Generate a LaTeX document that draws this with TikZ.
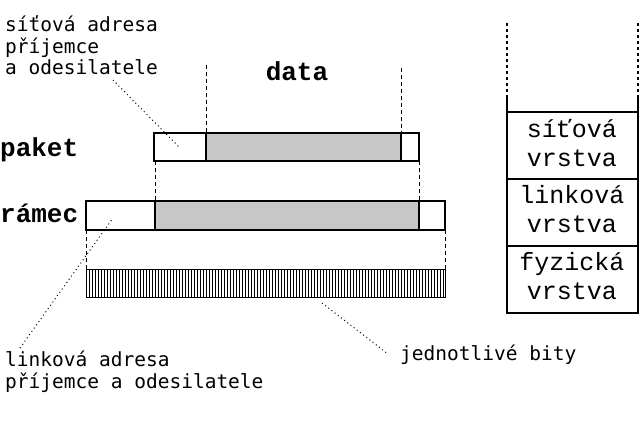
\documentclass[tikz,border=0pt]{standalone}
\usepackage{fontspec}
\newfontfamily\labfont{DejaVu Sans Mono}
\newfontfamily\bigfont{Liberation Mono}
\begin{document}
\begin{tikzpicture}[x=1pt,y=-1pt,
  boxline/.style={line width=2pt},
  guide/.style={line width=0.8pt,dash pattern=on 4pt off 3pt},
  pointer/.style={line width=1pt,dash pattern=on 1pt off 3pt},
  small/.style={font=\labfont\fontsize{19.5}{21.5}\selectfont,inner sep=0pt,align=left},
  big/.style={font=\bigfont\bfseries\fontsize{26}{28}\selectfont,inner sep=0pt},
  layer/.style={font=\bigfont\fontsize{25}{29}\selectfont,inner sep=0pt,align=center},
  datafill/.style={fill=black!22}]
\useasboundingbox (0,0) rectangle (640,425);
% paket
\fill[datafill] (206,133) rectangle (401,161);
\draw[boxline] (154,133) rectangle (419,161);
\draw[boxline] (206,133) -- (206,161) (401,133) -- (401,161);
% ramec
\fill[datafill] (155,201) rectangle (419,230);
\draw[boxline] (86,201) rectangle (445,230);
\draw[boxline] (155,201) -- (155,230) (419,201) -- (419,230);
% bits
\draw[line width=1pt] (86,269) rectangle (445,297);
\foreach \x in {89,92,...,443} \draw[line width=0.5pt] (\x,269) -- (\x,297);
% guides
\draw[guide] (206,65) -- (206,133);
\draw[guide] (401,68) -- (401,133);
\draw[guide] (155,161) -- (155,201);
\draw[guide] (419,161) -- (419,201);
\draw[guide] (86,230) -- (86,269);
\draw[guide] (445,230) -- (445,269);
% labels
\node[big,anchor=base west] (paket) at (0,157) {paket};
\node[big,anchor=base west] (ramec) at (0,222) {rámec};
\node[big,anchor=base] (data) at (297,81) {data};
\node[small,anchor=base west] (sa) at (5,75) {síťová adresa\\příjemce\\a odesilatele};
\node[small,anchor=base west] (la) at (5,388) {linková adresa\\příjemce a odesilatele};
\node[small,anchor=base west] (jb) at (400,360) {jednotlivé bity};
% pointers
\coordinate (sa1) at (113,80);
\coordinate (sa2) at (180,148);
\draw[pointer] (sa1) -- (sa2);
\coordinate (la1) at (20,348);
\coordinate (la2) at (113,218);
\draw[pointer] (la1) -- (la2);
\coordinate (jb1) at (322,303);
\coordinate (jb2) at (388,354);
\draw[pointer] (jb1) -- (jb2);
% stack
\draw[line width=2.5pt,dash pattern=on 3pt off 3pt] (507,23) -- (507,95) (638,23) -- (638,95);
\draw[boxline] (507,95) -- (507,313) -- (638,313) -- (638,95);
\draw[boxline] (507,112) -- (638,112) (507,179) -- (638,179) (507,246) -- (638,246);
\node[layer,anchor=base] (l1) at (572,167) {síťová\\vrstva};
\node[layer,anchor=base] (l2) at (572,232) {linková\\vrstva};
\node[layer,anchor=base] (l3) at (572,299) {fyzická\\vrstva};
\end{tikzpicture}
\end{document}
